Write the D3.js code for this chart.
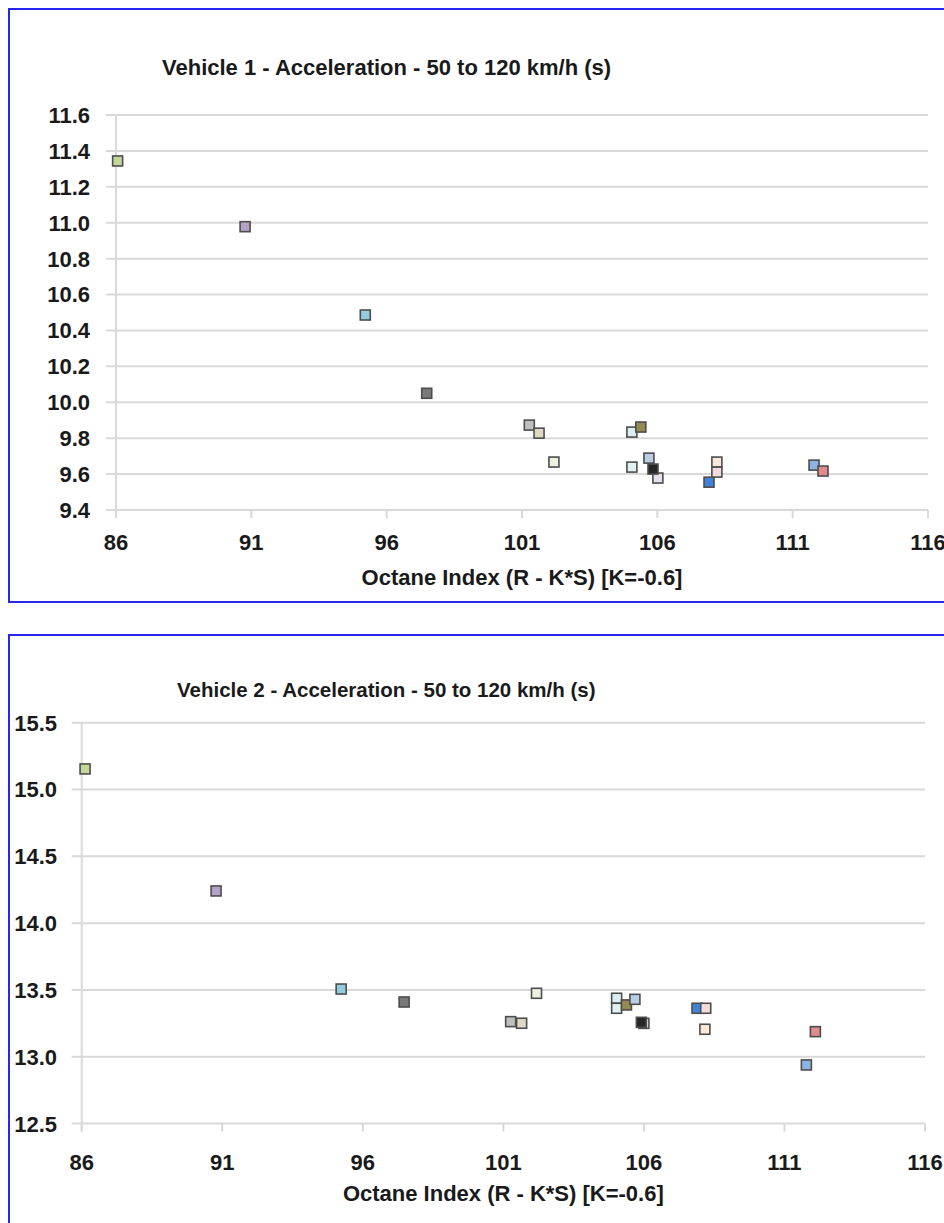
<!DOCTYPE html>
<html>
<head>
<meta charset="utf-8">
<script src="https://cdn.jsdelivr.net/npm/d3@7"></script>
<style>
  html, body { margin: 0; padding: 0; background: #ffffff; }
  svg { display: block; }
  text { font-family: "Liberation Sans", Arial, sans-serif; font-weight: bold; fill: #1a1a1a; }
</style>
</head>
<body>
<svg id="chart" width="944" height="1223"></svg>
<script>
// ---------- DATA ----------
const fuelColors = ["#c3d69b", "#b3a2c7", "#93cddd", "#7a7a7a", "#bfbfbf", "#ddd9c3",
  "#ebf1de", "#dbeef4", "#e2f0f2", "#948a54", "#b9cde5", "#e6e0ec", "#262626",
  "#3f84d8", "#fde9d9", "#f2dcdb", "#8eb4e3", "#e08b8a"];

const xTicks = [86, 91, 96, 101, 106, 111, 116];

const v1Title = "Vehicle 1 - Acceleration - 50 to 120 km/h (s)";
const v1Octane = [86.06, 90.77, 95.21, 97.48, 101.27, 101.63, 102.18, 105.06, 105.06, 105.39,
  105.69, 106.02, 105.84, 107.91, 108.20, 108.20, 111.79, 112.12];
const v1Accel = [11.344, 10.978, 10.486, 10.05, 9.873, 9.828, 9.667, 9.834, 9.639, 9.862,
  9.689, 9.578, 9.628, 9.555, 9.667, 9.611, 9.65, 9.617];
const v1YTicks = [9.4, 9.6, 9.8, 10.0, 10.2, 10.4, 10.6, 10.8, 11.0, 11.2, 11.4, 11.6];

const v2Title = "Vehicle 2 - Acceleration - 50 to 120 km/h (s)";
const v2Octane = [86.12, 90.78, 95.23, 97.47, 101.26, 101.65, 102.18, 105.03, 105.03, 105.38,
  105.68, 106.0, 105.91, 107.89, 108.17, 108.20, 111.78, 112.10];
const v2Accel = [15.154, 14.241, 13.507, 13.41, 13.263, 13.251, 13.475, 13.438, 13.363, 13.388,
  13.430, 13.25, 13.258, 13.363, 13.206, 13.363, 12.939, 13.188];
const v2YTicks = [12.5, 13.0, 13.5, 14.0, 14.5, 15.0, 15.5];

const xAxisTitle = "Octane Index (R - K*S) [K=-0.6]";

// ---------- DRAW ----------
const svg = d3.select("#chart");
svg.append("rect").attr("width", 944).attr("height", 1223).attr("fill", "#ffffff");

function drawChart(cfg) {
  const g = svg.append("g");
  // frame
  g.append("rect")
    .attr("x", 9).attr("y", cfg.frameTop)
    .attr("width", 960).attr("height", cfg.frameHeight)
    .attr("fill", "#ffffff").attr("stroke", "#2626f0").attr("stroke-width", 2);

  const x = d3.scaleLinear().domain([86, 116]).range([cfg.left, cfg.right]);
  const y = d3.scaleLinear().domain(cfg.yDomain).range([cfg.bottom, cfg.top]);

  // horizontal gridlines (with outside tick stub)
  g.selectAll(".grid").data(cfg.yTicks).enter().append("line")
    .attr("x1", cfg.left - 10).attr("x2", cfg.right)
    .attr("y1", d => y(d)).attr("y2", d => y(d))
    .attr("stroke", "#d9d9d9").attr("stroke-width", 2);

  // y axis line
  g.append("line")
    .attr("x1", cfg.left).attr("x2", cfg.left)
    .attr("y1", cfg.top).attr("y2", cfg.bottom + 8)
    .attr("stroke", "#d9d9d9").attr("stroke-width", 2);

  // x tick marks
  g.selectAll(".xt").data(xTicks).enter().append("line")
    .attr("x1", d => x(d)).attr("x2", d => x(d))
    .attr("y1", cfg.bottom).attr("y2", cfg.bottom + 8)
    .attr("stroke", "#d9d9d9").attr("stroke-width", 2);

  // y labels
  g.selectAll(".yl").data(cfg.yTicks).enter().append("text")
    .attr("x", cfg.yLabelRight).attr("y", d => y(d))
    .attr("dy", "0.36em")
    .attr("text-anchor", "end")
    .attr("font-size", 22)
    .text(d => d.toFixed(1));

  // x labels
  g.selectAll(".xl").data(xTicks).enter().append("text")
    .attr("x", d => x(d)).attr("y", cfg.bottom + cfg.xLabelGap)
    .attr("text-anchor", "middle")
    .attr("font-size", 22)
    .text(d => d);

  // axis title
  g.append("text")
    .attr("x", (cfg.left + cfg.right) / 2).attr("y", cfg.bottom + cfg.axisTitleGap)
    .attr("text-anchor", "middle")
    .attr("font-size", 22)
    .text(xAxisTitle);

  // chart title
  g.append("text")
    .attr("x", cfg.titleX).attr("y", cfg.titleY)
    .attr("font-size", cfg.titleSize)
    .text(cfg.title);

  // markers
  const pts = cfg.xs.map((v, i) => ({ x: v, y: cfg.ys[i], c: fuelColors[i] }));
  const s = 10;
  g.selectAll(".pt").data(pts).enter().append("rect")
    .attr("x", d => x(d.x) - s / 2).attr("y", d => y(d.y) - s / 2)
    .attr("width", s).attr("height", s)
    .attr("fill", d => d.c)
    .attr("stroke", "#4d4d4d").attr("stroke-width", 1.6);
}

drawChart({
  frameTop: 9, frameHeight: 593,
  left: 116, right: 928, top: 115, bottom: 510,
  yDomain: [9.4, 11.6], yTicks: v1YTicks, yLabelRight: 90,
  xLabelGap: 40, axisTitleGap: 75,
  titleX: 162, titleY: 75, titleSize: 22, title: v1Title,
  xs: v1Octane, ys: v1Accel
});

drawChart({
  frameTop: 635, frameHeight: 640,
  left: 81.7, right: 925, top: 722.7, bottom: 1123.6,
  yDomain: [12.5, 15.5], yTicks: v2YTicks, yLabelRight: 57,
  xLabelGap: 46, axisTitleGap: 77,
  titleX: 177, titleY: 697, titleSize: 20.5, title: v2Title,
  xs: v2Octane, ys: v2Accel
});
</script>
</body>
</html>
